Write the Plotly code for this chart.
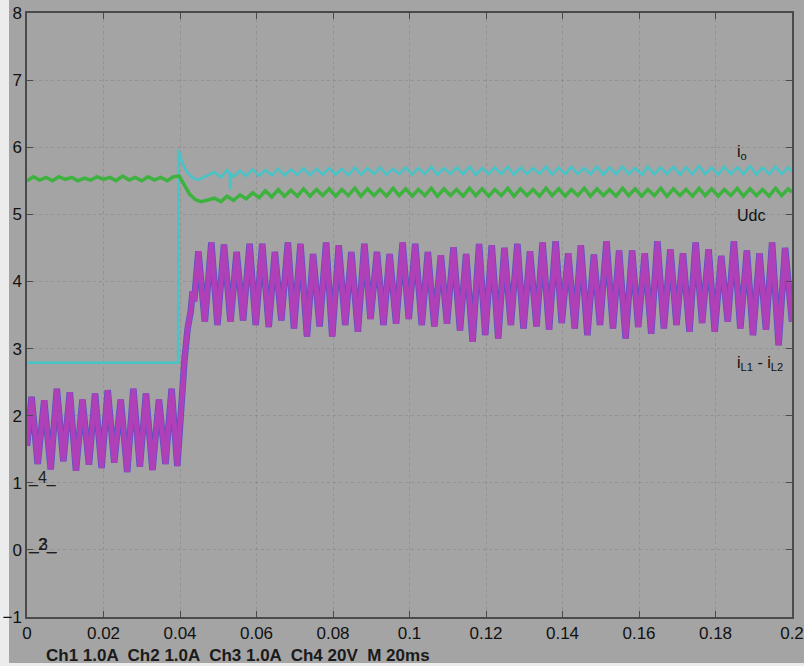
import plotly.graph_objects as go

# ---------------- data ----------------
x_ticks = [0, 0.02, 0.04, 0.06, 0.08, 0.1, 0.12, 0.14, 0.16, 0.18, 0.2]
x_tick_text = ["0", "0.02", "0.04", "0.06", "0.08", "0.1", "0.12", "0.14", "0.16", "0.18", "0.2"]
y_ticks = [-1, 0, 1, 2, 3, 4, 5, 6, 7, 8]

# i_L1 - i_L2 (magenta / blue) extrema
iL_t = [0.0000, 0.0012, 0.0028, 0.0045, 0.0062, 0.0078, 0.0095, 0.0112,
        0.0128, 0.0145, 0.0162, 0.0178, 0.0195, 0.0211, 0.0228, 0.0245,
        0.0262, 0.0278, 0.0295, 0.0311, 0.0328, 0.0345, 0.0362, 0.0378,
        0.0393,
        0.0403, 0.0412, 0.0420, 0.0428, 0.0433, 0.0437,
        0.0448, 0.0465, 0.0482, 0.0498, 0.0515, 0.0532, 0.0548, 0.0565,
        0.0582, 0.0598, 0.0615, 0.0632, 0.0648, 0.0665, 0.0682, 0.0698,
        0.0715, 0.0732, 0.0748, 0.0765, 0.0782, 0.0798, 0.0815, 0.0832,
        0.0848, 0.0865, 0.0882, 0.0898, 0.0915, 0.0932, 0.0948, 0.0965,
        0.0982, 0.0998, 0.1015, 0.1032, 0.1048, 0.1065, 0.1082, 0.1098,
        0.1115, 0.1132, 0.1148, 0.1165, 0.1182, 0.1198, 0.1215, 0.1232,
        0.1248, 0.1265, 0.1282, 0.1298, 0.1315, 0.1332, 0.1348, 0.1365,
        0.1382, 0.1398, 0.1415, 0.1432, 0.1448, 0.1465, 0.1482, 0.1498,
        0.1515, 0.1532, 0.1548, 0.1565, 0.1582, 0.1598, 0.1615, 0.1632,
        0.1648, 0.1665, 0.1682, 0.1698, 0.1715, 0.1732, 0.1748, 0.1765,
        0.1782, 0.1798, 0.1815, 0.1832, 0.1848, 0.1865, 0.1882, 0.1898,
        0.1915, 0.1932, 0.1948, 0.1965, 0.1982, 0.2000]
iL_v = [1.55, 2.28, 1.28, 2.23, 1.20, 2.40, 1.32, 2.35,
        1.18, 2.24, 1.27, 2.33, 1.22, 2.38, 1.30, 2.24,
        1.16, 2.40, 1.24, 2.33, 1.19, 2.24, 1.28, 2.40,
        1.25,
        2.25, 2.85, 3.30, 3.55, 3.85, 3.70,
        4.45, 3.40, 4.58, 3.35, 4.55, 3.40, 4.44, 3.42,
        4.56, 3.35, 4.56, 3.32, 4.44, 3.42, 4.58, 3.30,
        4.56, 3.18, 4.41, 3.33, 4.58, 3.18, 4.54, 3.35,
        4.44, 3.25, 4.56, 3.44, 4.44, 3.35, 4.41, 3.37,
        4.58, 3.44, 4.56, 3.35, 4.44, 3.33, 4.39, 3.37,
        4.51, 3.27, 4.41, 3.10, 4.56, 3.20, 4.54, 3.15,
        4.50, 3.35, 4.56, 3.30, 4.45, 3.33, 4.58, 3.28,
        4.60, 3.38, 4.42, 3.30, 4.54, 3.20, 4.40, 3.35,
        4.60, 3.30, 4.46, 3.15, 4.46, 3.32, 4.42, 3.22,
        4.60, 3.30, 4.48, 3.35, 4.42, 3.25, 4.58, 3.38,
        4.48, 3.25, 4.38, 3.40, 4.60, 3.30, 4.46, 3.20,
        4.42, 3.28, 4.58, 3.05, 4.50, 3.40]

# i_o (cyan) before the load step and its transient
io_pre_t = [0.0000, 0.0100, 0.0200, 0.0300, 0.0395, 0.0396, 0.0405, 0.0418, 0.0432, 0.0447]
io_pre_v = [2.79, 2.79, 2.80, 2.79, 2.79, 5.96, 5.78, 5.63, 5.55, 5.51]
io_spike_t = [0.0530, 0.0531, 0.0532]
io_spike_v = [5.62, 5.37, 5.61]

# Udc (green) before the step and its dip
udc_pre_t = [0.0000, 0.0017, 0.0033, 0.0050, 0.0067, 0.0083, 0.0100, 0.0117,
             0.0133, 0.0150, 0.0167, 0.0183, 0.0200, 0.0217, 0.0233, 0.0250,
             0.0267, 0.0283, 0.0300, 0.0317, 0.0333, 0.0350, 0.0367, 0.0383,
             0.0398, 0.0412, 0.0425, 0.0440, 0.0455, 0.0470]
udc_pre_v = [5.50, 5.56, 5.51, 5.55, 5.50, 5.56, 5.52, 5.55,
             5.50, 5.54, 5.51, 5.56, 5.52, 5.55, 5.50, 5.57,
             5.51, 5.55, 5.50, 5.56, 5.51, 5.55, 5.50, 5.56,
             5.57, 5.42, 5.30, 5.22, 5.19, 5.21]

# ripple extrema after the step (shared time base for i_o and Udc)
ripple_t = [0.0490, 0.0507, 0.0523, 0.0540, 0.0557, 0.0573, 0.0590, 0.0607,
            0.0623, 0.0640, 0.0657, 0.0673, 0.0690, 0.0707, 0.0723, 0.0740,
            0.0757, 0.0773, 0.0790, 0.0807, 0.0823, 0.0840, 0.0857, 0.0873,
            0.0890, 0.0907, 0.0923, 0.0940, 0.0957, 0.0973, 0.0990, 0.1007,
            0.1023, 0.1040, 0.1057, 0.1073, 0.1090, 0.1107, 0.1123, 0.1140,
            0.1157, 0.1173, 0.1190, 0.1207, 0.1223, 0.1240, 0.1257, 0.1273,
            0.1290, 0.1307, 0.1323, 0.1340, 0.1357, 0.1373, 0.1390, 0.1407,
            0.1423, 0.1440, 0.1457, 0.1473, 0.1490, 0.1507, 0.1523, 0.1540,
            0.1557, 0.1573, 0.1590, 0.1607, 0.1623, 0.1640, 0.1657, 0.1673,
            0.1690, 0.1707, 0.1723, 0.1740, 0.1757, 0.1773, 0.1790, 0.1807,
            0.1823, 0.1840, 0.1857, 0.1873, 0.1890, 0.1907, 0.1923, 0.1940,
            0.1957, 0.1973, 0.1990, 0.2000]
io_post_v = [5.63, 5.55, 5.66, 5.56, 5.65, 5.57, 5.67, 5.57,
             5.66, 5.58, 5.68, 5.58, 5.67, 5.59, 5.69, 5.58,
             5.68, 5.59, 5.69, 5.59, 5.68, 5.58, 5.70, 5.59,
             5.69, 5.60, 5.70, 5.59, 5.68, 5.60, 5.70, 5.59,
             5.69, 5.60, 5.71, 5.59, 5.69, 5.60, 5.70, 5.60,
             5.71, 5.59, 5.69, 5.60, 5.70, 5.60, 5.71, 5.59,
             5.70, 5.60, 5.69, 5.60, 5.71, 5.59, 5.70, 5.60,
             5.71, 5.60, 5.69, 5.60, 5.71, 5.59, 5.70, 5.60,
             5.71, 5.60, 5.69, 5.59, 5.71, 5.60, 5.70, 5.60,
             5.71, 5.59, 5.70, 5.60, 5.72, 5.60, 5.70, 5.59,
             5.71, 5.60, 5.70, 5.60, 5.72, 5.59, 5.70, 5.60,
             5.71, 5.60, 5.70, 5.64]
udc_post_v = [5.24, 5.19, 5.27, 5.21, 5.29, 5.23, 5.32, 5.25,
              5.35, 5.26, 5.37, 5.27, 5.36, 5.27, 5.38, 5.27,
              5.37, 5.28, 5.38, 5.27, 5.37, 5.28, 5.39, 5.27,
              5.38, 5.28, 5.37, 5.27, 5.39, 5.28, 5.38, 5.27,
              5.37, 5.28, 5.39, 5.27, 5.38, 5.28, 5.37, 5.27,
              5.39, 5.28, 5.38, 5.27, 5.37, 5.28, 5.39, 5.27,
              5.38, 5.28, 5.37, 5.27, 5.39, 5.28, 5.38, 5.27,
              5.37, 5.28, 5.39, 5.27, 5.38, 5.28, 5.37, 5.27,
              5.39, 5.28, 5.38, 5.27, 5.37, 5.28, 5.39, 5.27,
              5.38, 5.28, 5.37, 5.27, 5.39, 5.28, 5.38, 5.27,
              5.37, 5.28, 5.39, 5.27, 5.38, 5.28, 5.37, 5.27,
              5.39, 5.28, 5.38, 5.33]

trace_labels = ["i<sub>o</sub>", "Udc", "i<sub>L1</sub> - i<sub>L2</sub>"]
label_x = [0.185, 0.185, 0.185]
label_y = [5.92, 4.99, 2.77]
channel_markers = ["_4_", "_2_", "_3_"]
marker_levels = [1, 0, 0]
footer_text = "Ch1 1.0A  Ch2 1.0A  Ch3 1.0A  Ch4 20V  M 20ms"

# ---------------- build tables ----------------
io_pts = sorted(list(zip(io_pre_t, io_pre_v)) + list(zip(io_spike_t, io_spike_v))
                + list(zip(ripple_t, io_post_v)))
io_t = [p[0] for p in io_pts]
io_v = [p[1] for p in io_pts]
udc_t = udc_pre_t + ripple_t
udc_v = udc_pre_v + udc_post_v

BG = "rgb(164,164,164)"
AX = "#4a4a4a"
FONT = "Liberation Sans, Arial, sans-serif"

fig = go.Figure()
fig.add_trace(go.Scatter(x=iL_t, y=iL_v, mode="lines",
                         line=dict(color="rgb(92,80,196)", width=6.5), hoverinfo="skip"))
fig.add_trace(go.Scatter(x=iL_t, y=iL_v, mode="lines",
                         line=dict(color="rgb(176,64,184)", width=5), hoverinfo="skip"))
fig.add_trace(go.Scatter(x=io_t, y=io_v, mode="lines",
                         line=dict(color="rgb(70,196,200)", width=2.5), hoverinfo="skip"))
fig.add_trace(go.Scatter(x=udc_t, y=udc_v, mode="lines",
                         line=dict(color="rgb(62,178,62)", width=3.5), hoverinfo="skip"))

for txt, lx, ly in zip(trace_labels, label_x, label_y):
    fig.add_annotation(x=lx, y=ly, xref="x", yref="y", text=txt, showarrow=False,
                       xanchor="left", yanchor="middle",
                       font=dict(family=FONT, size=16, color="#111111"))

for i, (txt, lvl) in enumerate(zip(channel_markers, marker_levels)):
    fig.add_annotation(x=0, y=lvl, xref="x", yref="y", text=txt, showarrow=False,
                       xanchor="left", yanchor="bottom", yshift=-6, xshift=-1 + (1 if i == 2 else 0),
                       font=dict(family=FONT, size=16, color="#1e1e1e"))

# plot area: 27..792 px horizontally, 13..617 px vertically
L, R, T, B = 27, 12, 13, 49
W, H = 804, 666
pw, ph = W - L - R, H - T - B
fig.add_annotation(x=(44 - L) / pw, y=(H - B - 655) / ph, xref="paper", yref="paper",
                   text="<b>" + footer_text + "</b>", showarrow=False,
                   xanchor="left", yanchor="middle",
                   font=dict(family="Liberation Sans Narrow, Liberation Sans, Arial", size=17, color="#1a1a1a"))

# light strips at the picture border
fig.add_shape(type="rect", xref="paper", yref="paper",
              x0=-L / pw, x1=(9 - L) / pw, y0=(H - B - H) / ph, y1=(H - B) / ph,
              fillcolor="rgb(236,236,236)", line=dict(width=0), layer="below")
fig.add_shape(type="rect", xref="paper", yref="paper",
              x0=-L / pw, x1=(W - L) / pw, y0=(H - B - H) / ph, y1=(H - B - 663) / ph,
              fillcolor="rgb(236,236,236)", line=dict(width=0), layer="below")

axis_common = dict(showline=True, linecolor=AX, linewidth=1.5, mirror="ticks",
                   ticks="inside", ticklen=6, tickcolor=AX, tickwidth=1,
                   showgrid=True, gridcolor="rgba(120,120,120,0.4)", griddash="dot", gridwidth=1,
                   zeroline=False, automargin=False,
                   tickfont=dict(family=FONT, size=17, color="#111111"))

fig.update_xaxes(range=[0, 0.2], tickvals=x_ticks, ticktext=x_tick_text, **axis_common)
fig.update_yaxes(range=[-1, 8], tickvals=y_ticks, ticklabelstandoff=0, **axis_common)

fig.update_layout(width=W, height=H, margin=dict(l=L, r=R, t=T, b=B, pad=0, autoexpand=False),
                  paper_bgcolor=BG, plot_bgcolor=BG, showlegend=False, hovermode=False)

fig.write_html("out.html", config={"displayModeBar": False},
               post_script="document.body.style.margin='0';document.body.style.overflow='hidden';")
